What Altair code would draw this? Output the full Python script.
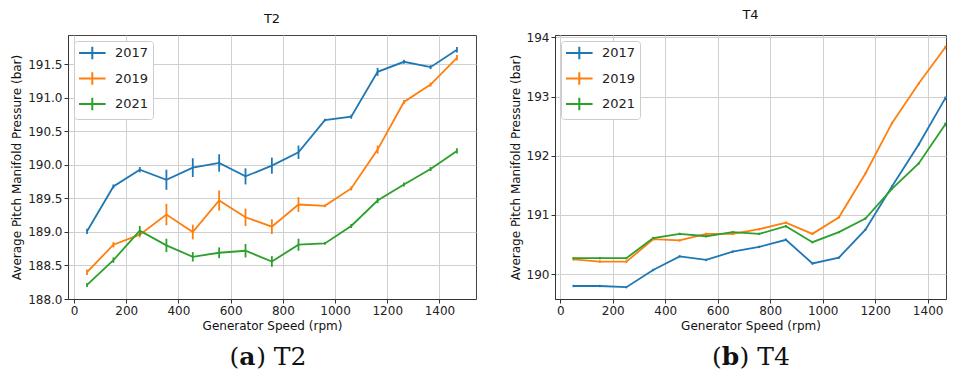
import altair as alt
import pandas as pd

speeds = [50, 151, 252, 354, 455, 556, 657, 758, 860, 961, 1062, 1163, 1264, 1366, 1467]
years = ["2017", "2019", "2021"]
colors = ["#1f77b4", "#ff7f0e", "#2ca02c"]

t2_2017 = [189.01, 189.68, 189.93, 189.78, 189.96, 190.03, 189.83, 189.99, 190.19, 190.67, 190.72, 191.39, 191.54, 191.46, 191.72]
t2_2017_err = [0.04, 0.03, 0.04, 0.15, 0.14, 0.13, 0.12, 0.12, 0.10, 0.02, 0.03, 0.06, 0.03, 0.03, 0.04]
t2_2019 = [188.40, 188.81, 188.96, 189.26, 189.00, 189.47, 189.22, 189.08, 189.41, 189.39, 189.65, 190.23, 190.94, 191.20, 191.60]
t2_2019_err = [0.04, 0.04, 0.04, 0.16, 0.11, 0.15, 0.13, 0.11, 0.11, 0.02, 0.03, 0.06, 0.03, 0.03, 0.04]
t2_2021 = [188.21, 188.58, 189.02, 188.80, 188.63, 188.69, 188.72, 188.56, 188.81, 188.83, 189.09, 189.47, 189.71, 189.94, 190.21]
t2_2021_err = [0.03, 0.04, 0.07, 0.10, 0.07, 0.08, 0.10, 0.08, 0.09, 0.02, 0.03, 0.04, 0.03, 0.03, 0.04]

t4_2017 = [189.80, 189.80, 189.78, 190.07, 190.30, 190.24, 190.38, 190.46, 190.58, 190.18, 190.28, 190.75, 191.48, 192.19, 192.97]
t4_2017_err = [0.02, 0.02, 0.02, 0.02, 0.02, 0.02, 0.02, 0.02, 0.02, 0.02, 0.02, 0.02, 0.02, 0.02, 0.03]
t4_2019 = [190.25, 190.21, 190.21, 190.59, 190.57, 190.68, 190.68, 190.76, 190.87, 190.68, 190.96, 191.70, 192.55, 193.22, 193.83]
t4_2019_err = [0.02, 0.02, 0.02, 0.02, 0.02, 0.02, 0.02, 0.02, 0.02, 0.02, 0.02, 0.02, 0.02, 0.02, 0.03]
t4_2021 = [190.27, 190.27, 190.27, 190.61, 190.68, 190.64, 190.71, 190.68, 190.81, 190.54, 190.71, 190.94, 191.44, 191.87, 192.53]
t4_2021_err = [0.02, 0.02, 0.02, 0.02, 0.02, 0.02, 0.02, 0.02, 0.02, 0.02, 0.02, 0.02, 0.02, 0.02, 0.03]

x_ticks = [0, 200, 400, 600, 800, 1000, 1200, 1400]
t2_yticks = [188.0, 188.5, 189.0, 189.5, 190.0, 190.5, 191.0, 191.5]
t4_yticks = [190, 191, 192, 193, 194]

caption_a = ["(", "a", ") T2"]
caption_b = ["(", "b", ") T4"]

PLOT_H = 264
CAP_FONT = "DejaVu Serif"
CAP_SIZE = 25


def frame(series, errs):
    rows = []
    for yr, vals, es in zip(years, series, errs):
        for s, v, e in zip(speeds, vals, es):
            rows.append(dict(speed=s, year=yr, value=v, lo=v - e, hi=v + e))
    return pd.DataFrame(rows)


def caption_layers(parts, center, letter_w):
    df = pd.DataFrame({"open": [parts[0]], "letter": [parts[1]], "rest": [parts[2]]})
    open_w = 0.39 * CAP_SIZE
    rest_w = (0.39 + 0.318 + 0.669 + 0.636) * CAP_SIZE
    start = center - (open_w + letter_w + rest_w) / 2
    yv = PLOT_H + 58
    base = alt.Chart(df)
    t1 = base.mark_text(align="left", baseline="middle", font=CAP_FONT, fontSize=CAP_SIZE,
                        color="#111").encode(text="open:N", x=alt.value(start), y=alt.value(yv))
    t2 = base.mark_text(align="left", baseline="middle", font=CAP_FONT, fontSize=CAP_SIZE,
                        fontWeight="bold", color="#111").encode(
        text="letter:N", x=alt.value(start + open_w), y=alt.value(yv))
    t3 = base.mark_text(align="left", baseline="middle", font=CAP_FONT, fontSize=CAP_SIZE,
                        color="#111").encode(
        text="rest:N", x=alt.value(start + open_w + letter_w), y=alt.value(yv))
    return [t1, t2, t3]


def panel(df, title, parts, cap_center, letter_w, xdom, ydom, yticks, yfmt, width):
    xs = alt.Scale(domain=xdom, nice=False, zero=False)
    ys = alt.Scale(domain=ydom, nice=False, zero=False)
    xa = alt.Axis(values=x_ticks, title="Generator Speed (rpm)", format="d")
    ya = alt.Axis(values=yticks, format=yfmt, title="Average Pitch Manifold Pressure (bar)")
    cscale = alt.Scale(domain=years, range=colors)
    legend = alt.Legend(title=None, orient="top-left", offset=6,
                        symbolType="M-1,0H2.8M0.9,-0.9V0.9", symbolSize=196,
                        symbolStrokeWidth=2, labelFontSize=13, labelFont="DejaVu Sans",
                        labelColor="#222", padding=4, strokeColor="#cccccc", fillColor="white",
                        cornerRadius=3, rowPadding=3.5, labelOffset=21)
    lines = alt.Chart(df).mark_line(strokeWidth=1.8).encode(
        x=alt.X("speed:Q", scale=xs, axis=xa),
        y=alt.Y("value:Q", scale=ys, axis=ya),
        color=alt.Color("year:N", scale=cscale, legend=legend))
    bars = alt.Chart(df).mark_rule(strokeWidth=1.8).encode(
        x=alt.X("speed:Q", scale=xs, axis=xa),
        y=alt.Y("lo:Q", scale=ys, axis=ya), y2="hi:Q",
        color=alt.Color("year:N", scale=cscale, legend=None))
    layer = alt.layer(lines, bars, *caption_layers(parts, cap_center, letter_w)).properties(
        width=width, height=PLOT_H,
        view=alt.ViewBackground(stroke="#444", strokeWidth=1),
        title=alt.TitleParams(title, fontSize=13, offset=9, font="DejaVu Sans",
                              fontWeight="normal", color="#111"))
    return layer


t2 = frame([t2_2017, t2_2019, t2_2021], [t2_2017_err, t2_2019_err, t2_2021_err])
t4 = frame([t4_2017, t4_2019, t4_2021], [t4_2017_err, t4_2019_err, t4_2021_err])

left = panel(t2, "T2", caption_a, 200, 0.675 * CAP_SIZE, [-23, 1540], [188.0, 191.94],
             t2_yticks, ".1f", 408)
right = panel(t4, "T4", caption_b, 196, 0.71 * CAP_SIZE, [-20, 1470], [189.58, 194.04],
              t4_yticks, "d", 391)

chart = alt.hconcat(left, right, spacing=31).resolve_scale(color="independent").properties(
    padding={"left": 2, "top": 0, "right": 0, "bottom": 0}
).configure_axis(
    gridColor="#d0d0d0", gridWidth=1, domainColor="#333", tickColor="#333", tickSize=4,
    labelColor="#222", labelFontSize=12, titleFontSize=12, labelFont="DejaVu Sans",
    titleFont="DejaVu Sans", titleFontWeight="normal", titleColor="#111",
    labelPadding=2, titlePadding=4
).configure_view(stroke="#444", strokeWidth=1)

chart.save("out.html", embed_options={"renderer": "svg", "actions": False})
